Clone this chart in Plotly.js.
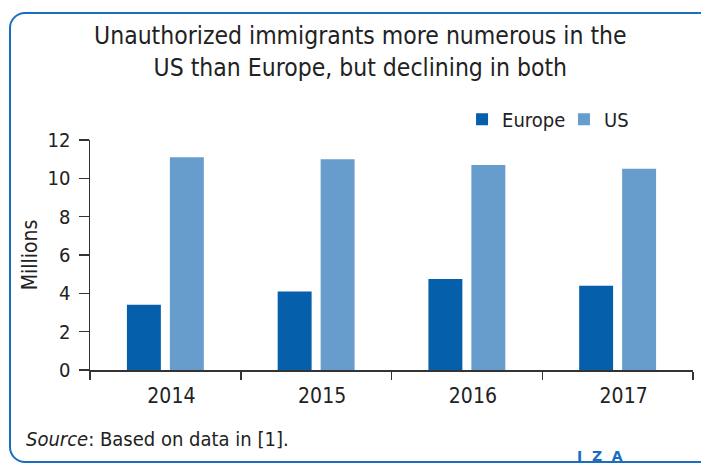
<!DOCTYPE html>
<html>
<head>
<meta charset="utf-8">
<script src="https://cdn.plot.ly/plotly-3.0.1.min.js"></script>
<style>
  html, body { margin: 0; padding: 0; overflow: hidden; background: #fff; }
  #frame { position: absolute; left: 9px; top: 12px; width: 730px; height: 451px;
           border: 2px solid #1a6ec0; border-radius: 16px; box-sizing: border-box; }
  #chart { position: absolute; left: 0; top: 0; width: 701px; height: 464px; }
</style>
</head>
<body>
<div id="frame"></div>
<div id="chart"></div>
<script>
const years = ['2014', '2015', '2016', '2017'];
const europe = [3.4, 4.1, 4.75, 4.4];
const us = [11.1, 11.0, 10.7, 10.5];
const yTicks = [0, 2, 4, 6, 8, 10, 12];

const FONT = 'DejaVu Sans Condensed, sans-serif';
const TXT = '#222222';

const traces = [
  { type: 'bar', name: 'Europe', x: years, y: europe, marker: { color: '#055faa' }, hoverinfo: 'y', legend: 'legend' },
  { type: 'bar', name: 'US', x: years, y: us, marker: { color: '#679dcc' }, hoverinfo: 'y', legend: 'legend2' }
];

const legendBase = {
  orientation: 'h', xanchor: 'left', y: 1.09, yanchor: 'middle',
  font: { family: FONT, size: 20, color: TXT }, bgcolor: 'rgba(0,0,0,0)',
  itemwidth: 30
};

const layout = {
  width: 701, height: 464,
  paper_bgcolor: 'rgba(0,0,0,0)', plot_bgcolor: 'rgba(0,0,0,0)',
  margin: { l: 90, r: 8, t: 140, b: 94 },
  font: { family: FONT, color: TXT, size: 19 },
  title: {
    text: 'Unauthorized immigrants more numerous in the<br>US than Europe, but declining in both',
    font: { family: FONT, size: 24.5, color: TXT },
    x: 0.514, xref: 'container', xanchor: 'center',
    y: 0.905, yref: 'container', yanchor: 'middle'
  },
  barmode: 'group', bargap: 0.43, bargroupgap: 0.21,
  showlegend: true,
  legend: Object.assign({}, legendBase, { x: 0.617 }),
  legend2: Object.assign({}, legendBase, { x: 0.786 }),
  xaxis: {
    type: 'category', tickson: 'boundaries', ticks: 'outside', ticklen: 8, tickwidth: 1.5,
    tickcolor: '#333', showline: true, linecolor: '#333', linewidth: 1.5,
    showgrid: false, zeroline: false, tickfont: { family: FONT, size: 21, color: TXT },
    ticklabelstandoff: 6, ticklabelshift: 6
  },
  yaxis: {
    range: [0, 12], tickvals: yTicks, ticktext: yTicks.map(String),
    ticks: 'outside', ticklen: 10, tickwidth: 1.5, tickcolor: '#333',
    showline: true, linecolor: '#333', linewidth: 1.5, showgrid: false, zeroline: false,
    tickfont: { family: FONT, size: 20, color: TXT }, ticklabelstandoff: 4,
    title: { text: 'Millions', font: { family: FONT, size: 21, color: TXT }, standoff: 4 }
  },
  annotations: [
    { text: '<i>Source</i>: Based on data in [1].', xref: 'paper', yref: 'paper',
      x: -0.11, xanchor: 'left', y: -0.3, yanchor: 'middle', showarrow: false,
      font: { family: FONT, size: 20, color: TXT } },
    { text: 'I  Z  A', xref: 'paper', yref: 'paper', x: 0.846, xanchor: 'center',
      y: -0.376, yanchor: 'middle', showarrow: false,
      font: { family: 'DejaVu Sans, sans-serif', size: 14, weight: 'bold', color: '#1a6ec0' } }
  ]
};

Plotly.newPlot('chart', traces, layout, { displayModeBar: false, staticPlot: true });
</script>
</body>
</html>
